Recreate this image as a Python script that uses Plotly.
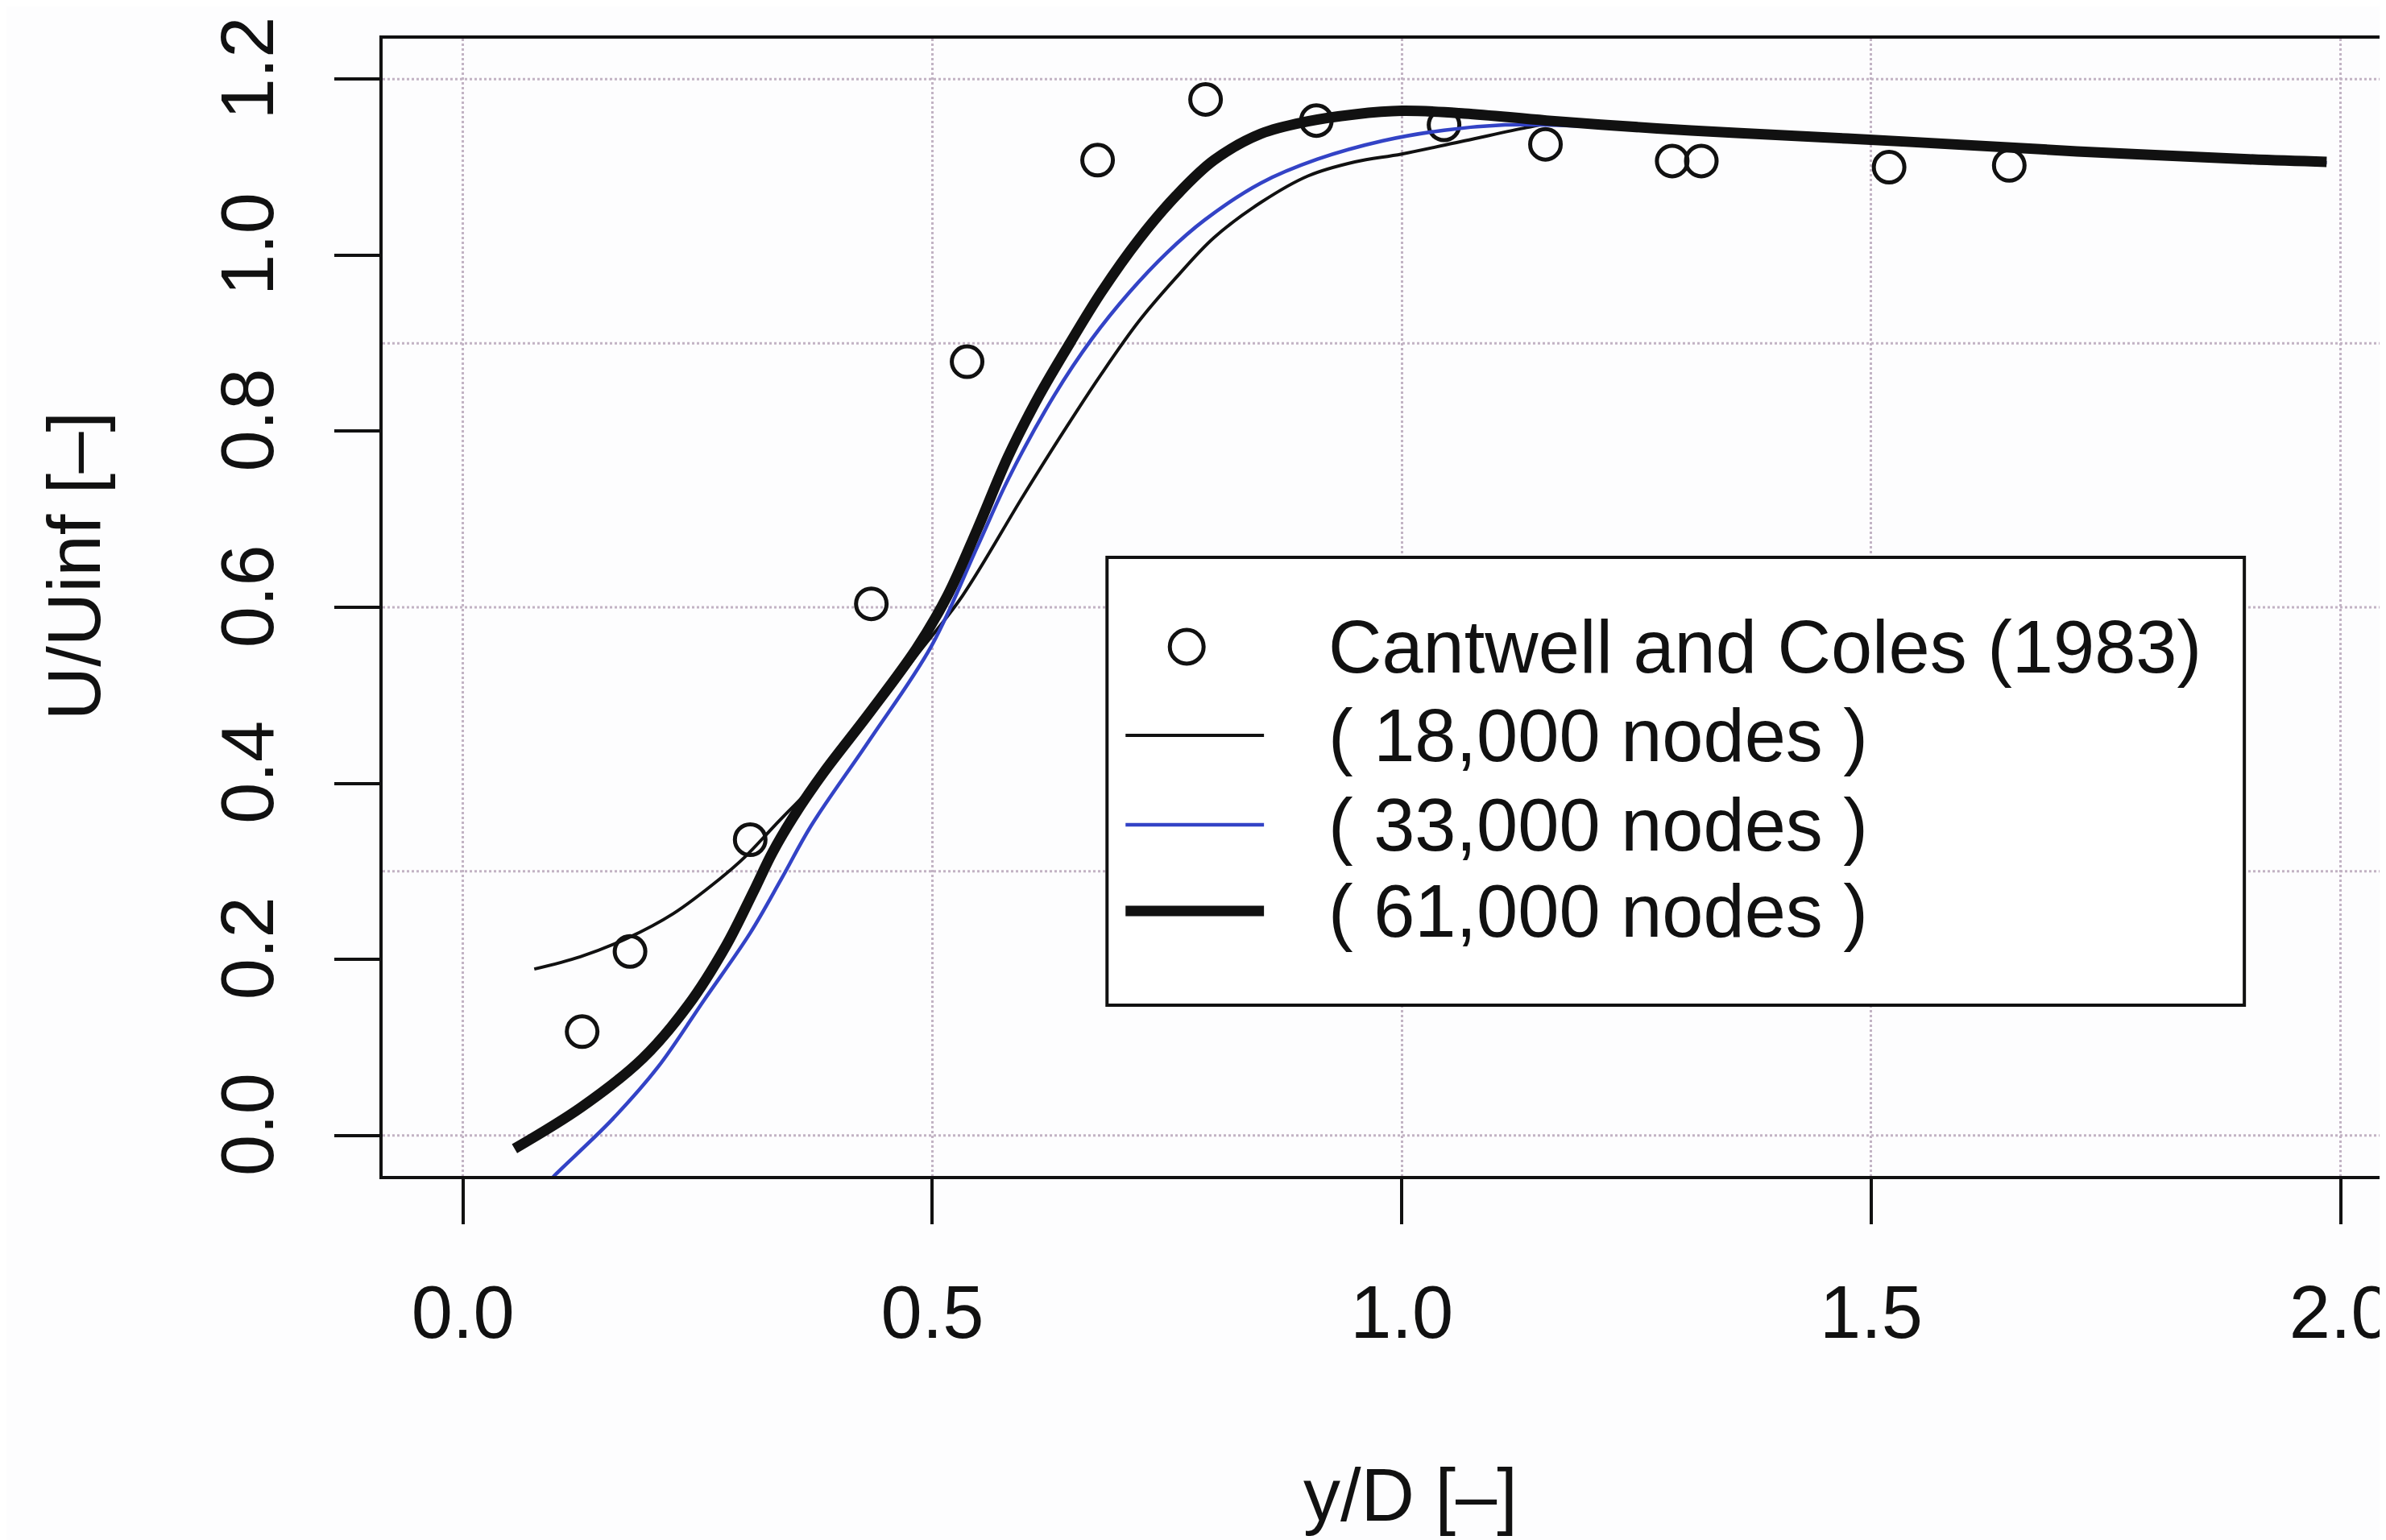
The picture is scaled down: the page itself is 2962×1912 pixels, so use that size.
import plotly.graph_objects as go

# ---------------- data ----------------
exp_x = [0.127, 0.178, 0.306, 0.435, 0.537, 0.676, 0.791, 0.909, 1.045, 1.153, 1.288, 1.319, 1.519, 1.647]
exp_y = [0.118, 0.209, 0.336, 0.604, 0.879, 1.108, 1.177, 1.153, 1.148, 1.126, 1.107, 1.107, 1.100, 1.102]

n18_x = [0.076, 0.125, 0.175, 0.224, 0.273, 0.300, 0.332, 0.384, 0.433, 0.483, 0.532, 0.597, 0.640,
         0.680, 0.720, 0.760, 0.800, 0.850, 0.900, 0.950, 1.000, 1.067, 1.133, 1.160, 1.272, 1.537,
         1.902, 1.985]
n18_y = [0.189, 0.203, 0.224, 0.252, 0.291, 0.316, 0.352, 0.410, 0.475, 0.545, 0.613, 0.727, 0.800,
         0.865, 0.925, 0.975, 1.020, 1.060, 1.090, 1.106, 1.115, 1.130, 1.145, 1.150, 1.143, 1.128,
         1.108, 1.105]

n33_x = [0.094, 0.099, 0.158, 0.208, 0.257, 0.306, 0.339, 0.371, 0.433, 0.499, 0.548, 0.581, 0.630,
         0.670, 0.710, 0.750, 0.790, 0.850, 0.910, 0.980, 1.045, 1.110, 1.150, 1.272, 1.537, 1.902, 1.985]
n33_y = [-0.050, -0.044, 0.017, 0.078, 0.154, 0.230, 0.291, 0.352, 0.449, 0.556, 0.669, 0.746, 0.841,
         0.905, 0.958, 1.003, 1.040, 1.082, 1.109, 1.130, 1.142, 1.148, 1.148, 1.143, 1.128, 1.108, 1.105]

n61_x = [0.055, 0.126, 0.191, 0.240, 0.280, 0.309, 0.330, 0.355, 0.384, 0.433, 0.483, 0.516, 0.548,
         0.581, 0.614, 0.647, 0.680, 0.720, 0.760, 0.800, 0.850, 0.900, 0.950, 1.000, 1.067, 1.154,
         1.272, 1.356, 1.537, 1.719, 1.902, 1.985]
n61_y = [-0.015, 0.032, 0.087, 0.148, 0.215, 0.276, 0.322, 0.367, 0.412, 0.480, 0.553, 0.613, 0.689,
         0.772, 0.841, 0.901, 0.958, 1.018, 1.068, 1.108, 1.138, 1.152, 1.160, 1.164, 1.161, 1.153,
         1.144, 1.139, 1.129, 1.118, 1.109, 1.106]

x_ticks = [0.0, 0.5, 1.0, 1.5, 2.0]
x_tick_labels = ["0.0", "0.5", "1.0", "1.5", "2.0"]
y_ticks = [0.0, 0.2, 0.4, 0.6, 0.8, 1.0, 1.2]
y_tick_labels = ["0.0", "0.2", "0.4", "0.6", "0.8", "1.0", "1.2"]
y_grid = [0.0, 0.3, 0.6, 0.9, 1.2]

legend_labels = ["Cantwell and Coles (1983)", "( 18,000 nodes )", "( 33,000 nodes )", "( 61,000 nodes )"]

# ---------------- styling ----------------
W_FIG, H_FIG = 2962, 1912
L, R, T, B = 467, 2962, 40, 1452          # plot area in pixels
FONT = "Liberation Sans, Arial, Helvetica, sans-serif"
FS = 92
BLACK = "#111111"
BLUE = "#3343c6"
GRID = "#c2b3c4"

def px(x):
    return (x - L) / (R - L)

def py(y):
    return (B - y) / (B - T)

fig = go.Figure()

fig.add_trace(go.Scatter(x=exp_x, y=exp_y, mode="markers", name=legend_labels[0],
                         marker=dict(symbol="circle-open", size=38, color=BLACK,
                                     line=dict(width=5, color=BLACK))))
fig.add_trace(go.Scatter(x=n18_x, y=n18_y, mode="lines", name=legend_labels[1],
                         line=dict(color=BLACK, width=4, shape="spline", smoothing=1.0)))
fig.add_trace(go.Scatter(x=n33_x, y=n33_y, mode="lines", name=legend_labels[2],
                         line=dict(color=BLUE, width=4.5, shape="spline", smoothing=1.0)))
fig.add_trace(go.Scatter(x=n61_x, y=n61_y, mode="lines", name=legend_labels[3],
                         line=dict(color=BLACK, width=13, shape="spline", smoothing=1.0)))

shapes = []
# horizontal dotted grid lines (R grid())
for g in y_grid:
    shapes.append(dict(type="line", xref="paper", yref="y", x0=0, x1=1, y0=g, y1=g,
                       line=dict(color=GRID, width=3, dash="dot"), layer="below"))

# legend box
lx0, lx1, ly0, ly1 = 1367, 2780, 684, 1240
shapes.append(dict(type="rect", xref="paper", yref="paper",
                   x0=px(lx0), x1=px(lx1), y0=py(ly1), y1=py(ly0),
                   line=dict(color=BLACK, width=4), fillcolor="white", layer="above"))
rows = [795, 905, 1016, 1123]
# legend circle
cx, cy, rr = 1466, rows[0], 21
shapes.append(dict(type="circle", xref="paper", yref="paper",
                   x0=px(cx - rr), x1=px(cx + rr), y0=py(cy + rr), y1=py(cy - rr),
                   line=dict(color=BLACK, width=5), layer="above"))
# legend line samples
for yy, col, wd in [(rows[1], BLACK, 4), (rows[2], BLUE, 4.5), (rows[3], BLACK, 13)]:
    shapes.append(dict(type="line", xref="paper", yref="paper",
                       x0=px(1390), x1=px(1562), y0=py(yy), y1=py(yy),
                       line=dict(color=col, width=wd), layer="above"))

annotations = []
for lab, yy in zip(legend_labels, rows):
    annotations.append(dict(text=lab, xref="paper", yref="paper", x=px(1640), y=py(yy),
                            xanchor="left", yanchor="middle", showarrow=False,
                            font=dict(family=FONT, size=FS, color=BLACK)))
# axis titles
annotations.append(dict(text="y/D [–]", xref="paper", yref="paper", x=px(1744), y=py(1848),
                        xanchor="center", yanchor="middle", showarrow=False,
                        font=dict(family=FONT, size=FS, color=BLACK)))
annotations.append(dict(text="U/Uinf [–]", xref="paper", yref="paper", x=px(84), y=py(695),
                        xanchor="center", yanchor="middle", showarrow=False, textangle=-90,
                        font=dict(family=FONT, size=FS, color=BLACK)))

fig.update_layout(
    width=W_FIG, height=H_FIG,
    margin=dict(l=L, r=W_FIG - R, t=T, b=H_FIG - B, pad=0),
    paper_bgcolor="#fdfdfe", plot_bgcolor="#fdfdfe",
    showlegend=False,
    shapes=shapes, annotations=annotations,
    font=dict(family=FONT, size=FS, color=BLACK),
)
fig.update_xaxes(range=[-0.0855, 2.0534], tickmode="array", tickvals=x_ticks, ticktext=x_tick_labels,
                 showgrid=True, gridcolor=GRID, gridwidth=3, griddash="dot",
                 showline=True, mirror=True, linecolor=BLACK, linewidth=4,
                 ticks="outside", ticklen=56, tickwidth=4, tickcolor=BLACK,
                 ticklabelstandoff=31, ticklabeloverflow="allow", zeroline=False,
                 tickfont=dict(family=FONT, size=FS, color=BLACK))
fig.update_yaxes(range=[-0.046, 1.246], tickmode="array", tickvals=y_ticks, ticktext=y_tick_labels,
                 showgrid=False, showline=True, mirror=False, linecolor=BLACK, linewidth=4,
                 ticks="outside", ticklen=56, tickwidth=4, tickcolor=BLACK,
                 tickangle=-90, ticklabelstandoff=39, zeroline=False,
                 tickfont=dict(family=FONT, size=FS, color=BLACK))

fig.write_html("out.html")
